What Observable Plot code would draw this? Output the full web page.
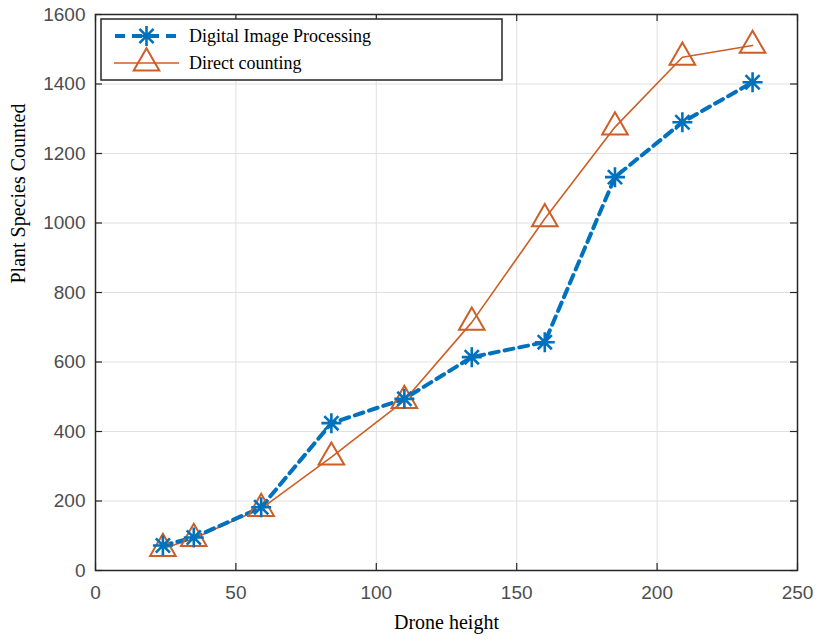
<!DOCTYPE html>
<html>
<head>
<meta charset="utf-8">
<script src="https://cdn.jsdelivr.net/npm/d3@7"></script>
<script src="https://cdn.jsdelivr.net/npm/@observablehq/plot@0.6"></script>
<style>
  html, body { margin: 0; padding: 0; background: #fff; }
</style>
</head>
<body>
<div id="chart"></div>
<script>
// Data
const heights = [24, 35, 59, 84, 110, 134, 160, 185, 209, 234];
const digitalImageProcessing = [72, 95, 182, 424, 494, 614, 657, 1132, 1290, 1405];
const directCounting = [63, 92, 178, 326, 489, 714, 1012, 1276, 1477, 1511];
const seriesNames = ["Digital Image Processing", "Direct counting"];
const xTicks = [0, 50, 100, 150, 200, 250];
const yTicks = [0, 200, 400, 600, 800, 1000, 1200, 1400, 1600];
const xLabel = "Drone height";
const yLabel = "Plant Species Counted";

const blue = "#0072bd";
const orange = "#cc5e26";

const dipData = heights.map((h, i) => ({x: h, y: digitalImageProcessing[i]}));
const dcData = heights.map((h, i) => ({x: h, y: directCounting[i]}));

// MATLAB-style 8-spoke asterisk
const star8 = {
  draw(context, size) {
    const r = Math.sqrt(size / Math.PI);
    const d = r * Math.SQRT1_2;
    context.moveTo(-r, 0); context.lineTo(r, 0);
    context.moveTo(0, -r); context.lineTo(0, r);
    context.moveTo(-d, -d); context.lineTo(d, d);
    context.moveTo(-d, d); context.lineTo(d, -d);
  }
};

const tickLenX = 20;   // in y units (~7px)
const tickLenY = 2.5;  // in x units (~7px)

const chart = Plot.plot({
  width: 819,
  height: 643,
  marginLeft: 95,
  marginRight: 22,
  marginTop: 14,
  marginBottom: 73,
  style: {fontFamily: "'Liberation Sans', Arial, sans-serif", fontSize: "19px", color: "#4d4d4d", background: "#fff"},
  x: {domain: [0, 250]},
  y: {domain: [0, 1600]},
  marks: [
    Plot.gridX(xTicks, {stroke: "#e0e0e0", strokeOpacity: 1, strokeWidth: 1}),
    Plot.gridY(yTicks, {stroke: "#e0e0e0", strokeOpacity: 1, strokeWidth: 1}),
    // inward ticks on all four sides
    Plot.ruleX(xTicks, {x: d => d, y1: 0, y2: tickLenX, stroke: "#262626", strokeWidth: 1.2}),
    Plot.ruleX(xTicks, {x: d => d, y1: 1600 - tickLenX, y2: 1600, stroke: "#262626", strokeWidth: 1.2}),
    Plot.ruleY(yTicks, {y: d => d, x1: 0, x2: tickLenY, stroke: "#262626", strokeWidth: 1.2}),
    Plot.ruleY(yTicks, {y: d => d, x1: 250 - tickLenY, x2: 250, stroke: "#262626", strokeWidth: 1.2}),
    Plot.axisX(xTicks, {tickSize: 0, tickPadding: 15, label: null, fontSize: 19, tickFormat: d => String(d)}),
    Plot.axisY(yTicks, {tickSize: 0, tickPadding: 10, label: null, fontSize: 19, tickFormat: d => String(d)}),
    // series
    Plot.line(dcData, {x: "x", y: "y", stroke: orange, strokeWidth: 1.6}),
    Plot.line(dipData, {x: "x", y: "y", stroke: blue, strokeWidth: 4, strokeDasharray: "9,6"}),
    Plot.dot(dcData, {x: "x", y: "y", symbol: "triangle", r: 9.5, stroke: orange, strokeWidth: 2, fill: "none"}),
    Plot.dot(dipData, {x: "x", y: "y", symbol: star8, r: 10, stroke: blue, strokeWidth: 2.6, fill: "none"}),
    Plot.frame({stroke: "#262626", strokeWidth: 1.5}),
    // axis titles
    Plot.text([xLabel], {frameAnchor: "bottom", dy: 58, text: d => d, fill: "#000", fontSize: 20,
      fontFamily: "'Liberation Serif', 'Times New Roman', serif"}),
    Plot.text([yLabel], {frameAnchor: "left", dx: -77, dy: -9, rotate: -90, text: d => d, fill: "#000", fontSize: 20,
      fontFamily: "'Liberation Serif', 'Times New Roman', serif"})
  ]
});

document.getElementById("chart").appendChild(chart);

// Legend box (top-left inside the plot area)
const svg = d3.select(chart);
const lg = svg.append("g").attr("class", "legend").attr("text-anchor", "start");
lg.append("rect")
  .attr("x", 101).attr("y", 19).attr("width", 401).attr("height", 61)
  .attr("fill", "#fff").attr("stroke", "#262626").attr("stroke-width", 1.5);
const rows = [
  {name: seriesNames[0], color: blue, dash: true, width: 4, symbol: star8, r: 10, sw: 2.6, cy: 36},
  {name: seriesNames[1], color: orange, dash: false, width: 1.6, symbol: d3.symbolTriangle, r: 9.5, sw: 2, cy: 63}
];
rows.forEach(r => {
  const line = lg.append("line")
    .attr("x1", 114).attr("x2", 179).attr("y1", r.cy).attr("y2", r.cy)
    .attr("stroke", r.color).attr("stroke-width", r.width);
  if (r.dash) line.attr("stroke-dasharray", "10,7").attr("stroke-dashoffset", -1);
  lg.append("path")
    .attr("d", d3.symbol(r.symbol, Math.PI * r.r * r.r)())
    .attr("transform", `translate(146.5,${r.cy})`)
    .attr("fill", "none").attr("stroke", r.color).attr("stroke-width", r.sw);
  lg.append("text")
    .attr("x", 189).attr("y", r.cy).attr("dy", "0.32em")
    .attr("text-anchor", "start")
    .attr("font-family", "'Liberation Serif', 'Times New Roman', serif")
    .attr("font-size", 18).attr("fill", "#000")
    .text(r.name);
});
</script>
</body>
</html>
